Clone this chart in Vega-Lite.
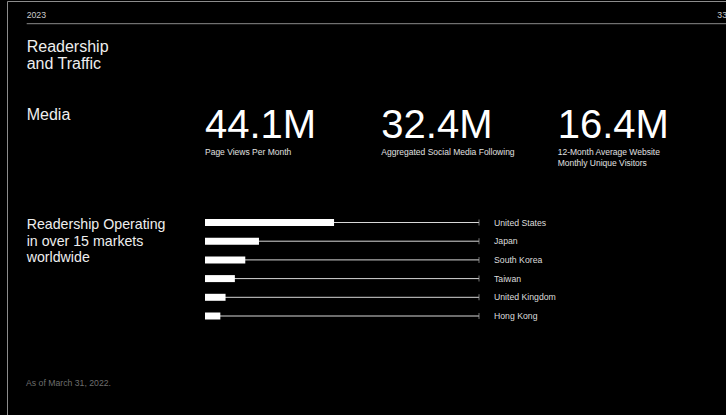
{
  "$schema": "https://vega.github.io/schema/vega-lite/v6.json",
  "width": 719,
  "height": 414,
  "autosize": {"type": "none"},
  "padding": {"left": 7, "top": 1, "right": 0, "bottom": 0},
  "background": "#000000",
  "config": {
    "view": {"stroke": "#8c8c8c", "strokeWidth": 1},
    "font": "Liberation Sans",
    "text": {"font": "Liberation Sans"}
  },
  "datasets": {
    "metrics": [
      {"metric": "Page Views Per Month", "value": "44.1M"},
      {"metric": "Aggregated Social Media Following", "value": "32.4M"},
      {"metric": "12-Month Average Website\nMonthly Unique Visitors", "value": "16.4M"}
    ],
    "markets": [
      {"country": "United States", "share": 47.1},
      {"country": "Japan", "share": 19.7},
      {"country": "South Korea", "share": 14.7},
      {"country": "Taiwan", "share": 10.9},
      {"country": "United Kingdom", "share": 7.5},
      {"country": "Hong Kong", "share": 5.6}
    ]
  },
  "resolve": {"scale": {"x": "independent", "y": "independent"}},
  "layer": [
    {
      "data": {"values": [{"item": "2023"}, {"item": "33"}]},
      "mark": {"type": "text", "fontSize": 8.7, "color": "#cccccc", "align": "left", "baseline": "alphabetic"},
      "encoding": {
        "x": {"field": "item", "type": "nominal", "scale": {"type": "point", "domain": ["2023", "33"], "range": [19.7, 710.3], "padding": 0}, "axis": null},
        "y": {"value": 17.3},
        "text": {"field": "item"}
      }
    },
    {
      "data": {"values": [{"item": "separator"}]},
      "mark": {"type": "rule", "color": "#8a8a8a", "strokeWidth": 1},
      "encoding": {"x": {"value": 19.7}, "x2": {"value": 719}, "y": {"value": 22.7}}
    },
    {
      "data": {"values": [{"section": "Readership\nand Traffic"}, {"section": "Media"}]},
      "mark": {"type": "text", "fontSize": 16, "color": "#eeeeee", "align": "left", "baseline": "alphabetic", "lineBreak": "\n", "lineHeight": 17.6},
      "encoding": {
        "x": {"value": 19.7},
        "y": {"field": "section", "type": "nominal", "scale": {"type": "point", "domain": ["Readership\nand Traffic", "Media"], "range": [50.7, 119], "padding": 0}, "axis": null},
        "text": {"field": "section"}
      }
    },
    {
      "data": {"values": [{"section": "Readership Operating\nin over 15 markets\nworldwide"}]},
      "mark": {"type": "text", "fontSize": 14.2, "color": "#eeeeee", "align": "left", "baseline": "alphabetic", "lineBreak": "\n", "lineHeight": 16.5},
      "encoding": {
        "x": {"value": 19.7},
        "y": {"value": 228.3},
        "text": {"field": "section"}
      }
    },
    {
      "data": {"name": "metrics"},
      "mark": {"type": "text", "fontSize": 40, "color": "#ffffff", "align": "left", "baseline": "alphabetic"},
      "encoding": {
        "x": {"field": "metric", "type": "nominal", "sort": null, "scale": {"type": "point", "domain": ["Page Views Per Month", "Aggregated Social Media Following", "12-Month Average Website\nMonthly Unique Visitors"], "range": [198, 550.7], "padding": 0}, "axis": null},
        "y": {"value": 136.7},
        "text": {"field": "value"}
      }
    },
    {
      "data": {"name": "metrics"},
      "mark": {"type": "text", "fontSize": 8.5, "color": "#e0e0e0", "align": "left", "baseline": "alphabetic", "lineBreak": "\n", "lineHeight": 11},
      "encoding": {
        "x": {"field": "metric", "type": "nominal", "sort": null, "scale": {"type": "point", "domain": ["Page Views Per Month", "Aggregated Social Media Following", "12-Month Average Website\nMonthly Unique Visitors"], "range": [198, 550.7], "padding": 0}, "axis": null},
        "y": {"value": 154},
        "text": {"field": "metric"}
      }
    },
    {
      "data": {"name": "markets"},
      "encoding": {
        "y": {"field": "country", "type": "nominal", "sort": null, "scale": {"type": "band", "domain": ["United States", "Japan", "South Korea", "Taiwan", "United Kingdom", "Hong Kong"], "range": [212.15, 324.35], "paddingInner": 0, "paddingOuter": 0}, "axis": null}
      },
      "layer": [
        {
          "mark": {"type": "rule", "color": "#d8d8d8", "strokeWidth": 1},
          "encoding": {
            "x": {"datum": 0, "type": "quantitative", "scale": {"domain": [0, 100], "range": [198, 472]}, "axis": null},
            "x2": {"datum": 100}
          }
        },
        {
          "mark": {"type": "bar", "color": "#ffffff", "height": 7},
          "encoding": {
            "x": {"field": "share", "type": "quantitative", "axis": null}
          }
        },
        {
          "mark": {"type": "tick", "orient": "vertical", "color": "#aaaaaa", "size": 6, "thickness": 1},
          "encoding": {
            "x": {"datum": 100, "type": "quantitative"}
          }
        },
        {
          "mark": {"type": "text", "align": "left", "baseline": "middle", "dx": 15, "fontSize": 8.7, "color": "#dddddd"},
          "encoding": {
            "x": {"datum": 100, "type": "quantitative"},
            "text": {"field": "country"}
          }
        }
      ]
    },
    {
      "data": {"values": [{"note": "As of March 31, 2022."}]},
      "mark": {"type": "text", "fontSize": 8.7, "color": "#6e6e6e", "align": "left", "baseline": "alphabetic"},
      "encoding": {
        "x": {"value": 19},
        "y": {"value": 385},
        "text": {"field": "note"}
      }
    }
  ]
}
